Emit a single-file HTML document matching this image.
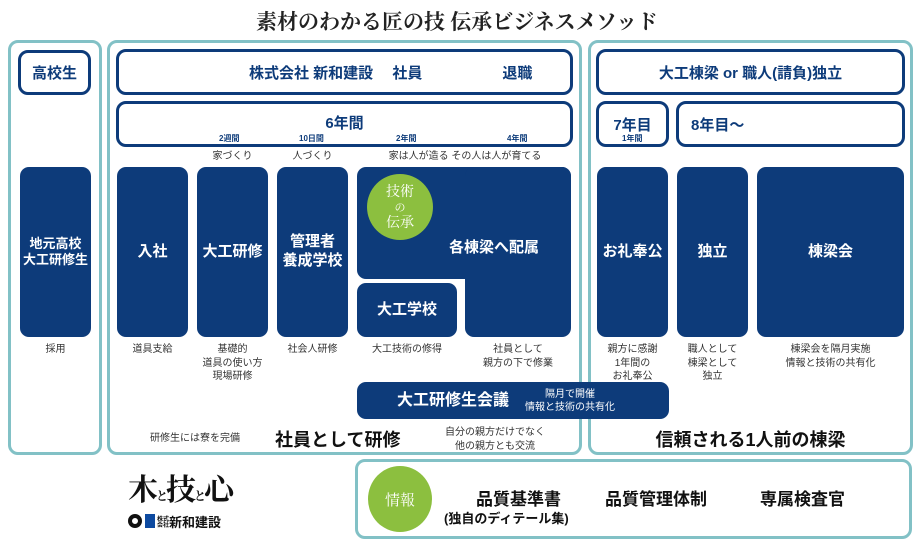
<!DOCTYPE html>
<html><head><meta charset="utf-8"><style>
*{margin:0;padding:0;box-sizing:border-box}
body{width:914px;height:544px;background:#fff;position:relative;overflow:hidden;font-family:"Liberation Sans","Noto Sans CJK JP",sans-serif;color:#222}
div{position:absolute}
.p{border:3px solid #82c1c6;border-radius:10px}
.w{border:3px solid #0d3b7a;border-radius:10px;background:#fff;color:#0d3b7a;font-weight:bold;font-size:15px;display:flex;align-items:center}
.n{background:#0d3b7a;border-radius:9px;color:#fff;font-weight:bold;font-size:15px;display:flex;align-items:center;justify-content:center;text-align:center;line-height:1.25}
.s{font-size:10px;text-align:center;line-height:1.35;color:#333}
.t{font-size:8px;font-weight:bold;color:#0d3b7a}
</style></head><body>
<div style="left:0;width:914px;top:6px;text-align:center;font-size:21px;font-weight:bold;font-family:'Noto Serif CJK SC',serif;color:#222">素材のわかる匠の技 伝承ビジネスメソッド</div>

<div class="p" style="left:8px;top:40px;width:94px;height:415px"></div>
<div class="p" style="left:107px;top:40px;width:475px;height:415px"></div>
<div class="p" style="left:588px;top:40px;width:325px;height:415px"></div>

<div class="w" style="left:18px;top:50px;width:73px;height:45px;justify-content:center">高校生</div>
<div class="w" style="left:116px;top:49px;width:457px;height:46px"><span style="margin-left:130px">株式会社 新和建設　 社員</span><span style="margin-left:80px">退職</span></div>
<div class="w" style="left:116px;top:101px;width:457px;height:46px;justify-content:center;align-items:flex-start;padding-top:8px">6年間</div>
<div class="w" style="left:596px;top:49px;width:309px;height:46px;justify-content:center">大工棟梁 or 職人(請負)独立</div>
<div class="w" style="left:596px;top:101px;width:73px;height:46px;justify-content:center;align-items:flex-start;padding-top:10px">7年目</div>
<div class="w" style="left:676px;top:101px;width:229px;height:46px;padding-left:12px;align-items:flex-start;padding-top:10px">8年目～</div>

<div class="t" style="left:219px;top:133px">2週間</div>
<div class="t" style="left:299px;top:133px">10日間</div>
<div class="t" style="left:396px;top:133px">2年間</div>
<div class="t" style="left:507px;top:133px">4年間</div>
<div class="t" style="left:622px;top:133px">1年間</div>

<div class="s" style="left:200px;top:150px;width:65px">家づくり</div>
<div class="s" style="left:280px;top:150px;width:65px">人づくり</div>
<div class="s" style="left:375px;top:150px;width:180px">家は人が造る その人は人が育てる</div>

<div class="n" style="left:20px;top:167px;width:71px;height:170px;font-size:13px">地元高校<br>大工研修生</div>
<div class="n" style="left:117px;top:167px;width:71px;height:170px">入社</div>
<div class="n" style="left:197px;top:167px;width:71px;height:170px">大工研修</div>
<div class="n" style="left:277px;top:167px;width:71px;height:170px">管理者<br>養成学校</div>
<div class="n" style="left:357px;top:167px;width:214px;height:112px"></div>
<div class="n" style="left:465px;top:167px;width:106px;height:170px"></div>
<div style="left:357px;top:236px;width:214px;color:#fff;font-weight:bold;font-size:15px;text-align:center;padding-left:60px">各棟梁へ配属</div>
<div class="n" style="left:357px;top:283px;width:100px;height:54px">大工学校</div>
<div style="left:367px;top:174px;width:66px;height:66px;border-radius:50%;background:#8cbf3f;color:#fff;font-family:'Noto Serif CJK SC',serif;font-size:14px;text-align:center;line-height:1.1;padding-top:10px">技術<br><span style="font-size:11px">の</span><br>伝承</div>
<div class="n" style="left:597px;top:167px;width:71px;height:170px">お礼奉公</div>
<div class="n" style="left:677px;top:167px;width:71px;height:170px">独立</div>
<div class="n" style="left:757px;top:167px;width:147px;height:170px">棟梁会</div>

<div class="s" style="left:20px;top:343px;width:71px">採用</div>
<div class="s" style="left:117px;top:343px;width:71px">道具支給</div>
<div class="s" style="left:192px;top:343px;width:81px">基礎的<br>道具の使い方<br>現場研修</div>
<div class="s" style="left:277px;top:343px;width:71px">社会人研修</div>
<div class="s" style="left:357px;top:343px;width:100px">大工技術の修得</div>
<div class="s" style="left:460px;top:343px;width:116px">社員として<br>親方の下で修業</div>
<div class="s" style="left:597px;top:343px;width:71px">親方に感謝<br>1年間の<br>お礼奉公</div>
<div class="s" style="left:677px;top:343px;width:71px">職人として<br>棟梁として<br>独立</div>
<div class="s" style="left:757px;top:343px;width:147px">棟梁会を隔月実施<br>情報と技術の共有化</div>

<div class="n" style="left:357px;top:382px;width:312px;height:37px;justify-content:flex-start"><span style="margin-left:40px;font-size:16px">大工研修生会議</span><span style="margin-left:16px;font-size:10px;font-weight:normal;line-height:1.3">隔月で開催<br>情報と技術の共有化</span></div>

<div class="s" style="left:135px;top:432px;width:120px">研修生には寮を完備</div>
<div style="left:275px;top:426px;font-size:18px;font-weight:bold;color:#111">社員として研修</div>
<div class="s" style="left:440px;top:426px;width:110px">自分の親方だけでなく<br>他の親方とも交流</div>
<div style="left:588px;top:426px;width:325px;text-align:center;font-size:18px;font-weight:bold;color:#111">信頼される1人前の棟梁</div>

<div style="left:128px;top:465px;font-size:30px;font-family:'Noto Serif CJK SC',serif;font-weight:bold;color:#111;letter-spacing:-2px">木<span style="font-size:12px">と</span>技<span style="font-size:12px">と</span>心</div>
<div style="left:128px;top:514px;width:14px;height:14px;border:4px solid #111;border-radius:50%"></div>
<div style="left:145px;top:514px;width:10px;height:14px;background:#0d4aa0"></div>
<div style="left:157px;top:512px;font-size:13px;font-weight:bold;color:#111"><span style="font-size:6px;display:inline-block;width:12px;line-height:1">株式会社</span>新和建設</div>

<div class="p" style="left:355px;top:459px;width:557px;height:80px;border-width:3px"></div>
<div style="left:368px;top:466px;width:64px;height:66px;border-radius:50%;background:#8cbf3f;color:#fff;font-family:'Noto Serif CJK SC',serif;font-size:15px;display:flex;align-items:center;justify-content:center">情報</div>
<div style="left:476px;top:485px;font-size:17px;font-weight:bold;color:#111;white-space:nowrap">品質基準書</div>
<div style="left:605px;top:485px;font-size:17px;font-weight:bold;color:#111;white-space:nowrap">品質管理体制</div>
<div style="left:760px;top:485px;font-size:17px;font-weight:bold;color:#111;white-space:nowrap">専属検査官</div>
<div style="left:444px;top:508px;font-size:13px;font-weight:bold;color:#111">(独自のディテール集)</div>
</body></html>
